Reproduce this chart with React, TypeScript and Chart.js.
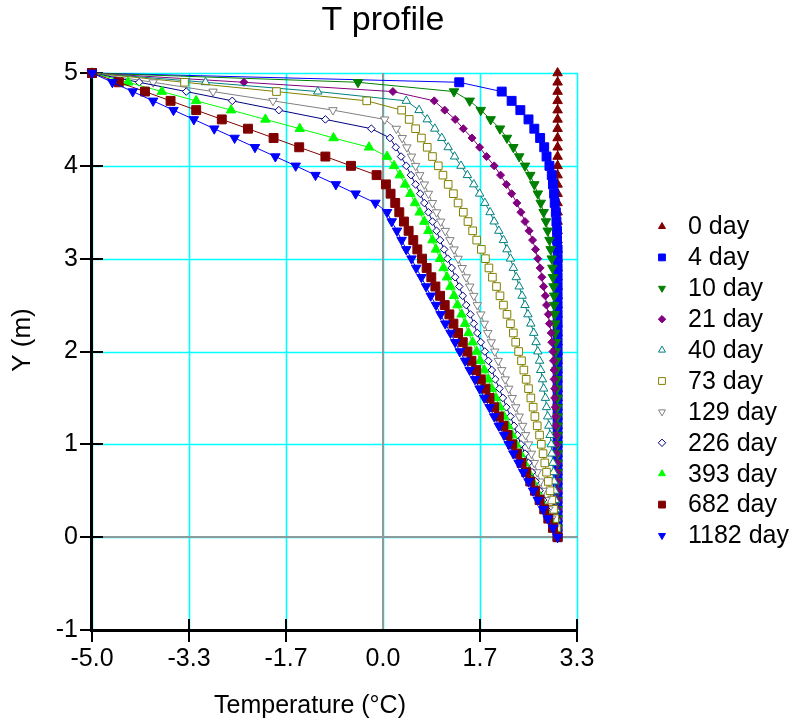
import React, { useEffect, useRef } from 'react';
import { Chart, registerables } from 'chart.js';

Chart.register(...registerables);

// ---------- data ----------
const depths = [
  5.0, 4.9, 4.8, 4.7, 4.6, 4.5, 4.4, 4.3, 4.2, 4.1,
  4.0, 3.9, 3.8, 3.7, 3.6, 3.5, 3.4, 3.3, 3.2, 3.1,
  3.0, 2.9, 2.8, 2.7, 2.6, 2.5, 2.4, 2.3, 2.2, 2.1,
  2.0, 1.9, 1.8, 1.7, 1.6, 1.5, 1.4, 1.3, 1.2, 1.1,
  1.0, 0.9, 0.8, 0.7, 0.6, 0.5, 0.4, 0.3, 0.2, 0.1, 0.0,
];

const seriesLabels = ['0 day', '4 day', '10 day', '21 day', '40 day', '73 day', '129 day', '226 day', '393 day', '682 day', '1182 day'];

const t0 = [
  3.0, 3.0, 3.0, 3.0, 3.0, 3.0, 3.0, 3.0, 3.0, 3.0,
  3.0, 3.0, 3.0, 3.0, 3.0, 3.0, 3.0, 3.0, 3.0, 3.0,
  3.0, 3.0, 3.0, 3.0, 3.0, 3.0, 3.0, 3.0, 3.0, 3.0,
  3.0, 3.0, 3.0, 3.0, 3.0, 3.0, 3.0, 3.0, 3.0, 3.0,
  3.0, 3.0, 3.0, 3.0, 3.0, 3.0, 3.0, 3.0, 3.0, 3.0, 3.0,
];
const t4 = [
  -5.0, 1.31, 2.04, 2.21, 2.36, 2.50, 2.60, 2.70, 2.77, 2.81,
  2.86, 2.90, 2.92, 2.94, 2.95, 2.97, 2.98, 2.99, 2.99, 3.0,
  3.0, 3.0, 3.0, 3.0, 3.0, 3.0, 3.0, 3.0, 3.0, 3.0,
  3.0, 3.0, 3.0, 3.0, 3.0, 3.0, 3.0, 3.0, 3.0, 3.0,
  3.0, 3.0, 3.0, 3.0, 3.0, 3.0, 3.0, 3.0, 3.0, 3.0, 3.0,
];
const t10 = [
  -5.0, -0.43, 1.22, 1.49, 1.68, 1.85, 2.01, 2.13, 2.24, 2.34,
  2.44, 2.53, 2.60, 2.66, 2.71, 2.76, 2.80, 2.83, 2.86, 2.88,
  2.90, 2.91, 2.92, 2.93, 2.94, 2.94, 2.95, 2.96, 2.96, 2.97,
  2.97, 2.98, 2.98, 2.99, 2.99, 3.0, 3.0, 3.0, 3.0, 3.0,
  3.0, 3.0, 3.0, 3.0, 3.0, 3.0, 3.0, 3.0, 3.0, 3.0, 3.0,
];
const t21 = [
  -5.0, -2.39, 0.17, 0.88, 1.06, 1.24, 1.38, 1.53, 1.66, 1.78,
  1.91, 2.02, 2.12, 2.21, 2.30, 2.37, 2.44, 2.51, 2.57, 2.62,
  2.66, 2.70, 2.73, 2.76, 2.79, 2.81, 2.84, 2.86, 2.89, 2.90,
  2.92, 2.93, 2.94, 2.94, 2.95, 2.95, 2.96, 2.97, 2.97, 2.98,
  2.98, 2.98, 2.99, 2.99, 2.99, 3.0, 3.0, 3.0, 3.0, 3.0, 3.0,
];
const t40 = [
  -5.0, -3.05, -1.12, 0.40, 0.62, 0.76, 0.89, 1.01, 1.12, 1.23,
  1.34, 1.45, 1.56, 1.66, 1.75, 1.84, 1.91, 1.99, 2.07, 2.13,
  2.19, 2.24, 2.29, 2.34, 2.39, 2.44, 2.49, 2.54, 2.59, 2.63,
  2.66, 2.69, 2.71, 2.74, 2.76, 2.79, 2.81, 2.83, 2.85, 2.87,
  2.89, 2.90, 2.92, 2.93, 2.94, 2.95, 2.96, 2.97, 2.98, 2.99, 3.0,
];
const t73 = [
  -5.0, -3.41, -1.83, -0.28, 0.32, 0.45, 0.56, 0.66, 0.76, 0.85,
  0.95, 1.03, 1.12, 1.21, 1.29, 1.38, 1.46, 1.54, 1.61, 1.69,
  1.76, 1.82, 1.88, 1.95, 2.01, 2.07, 2.13, 2.19, 2.24, 2.28,
  2.33, 2.38, 2.42, 2.46, 2.50, 2.54, 2.58, 2.61, 2.65, 2.69,
  2.72, 2.75, 2.78, 2.81, 2.84, 2.87, 2.90, 2.93, 2.95, 2.98, 3.0,
];
const t129 = [
  -5.0, -3.95, -2.92, -1.89, -0.86, 0.03, 0.23, 0.33, 0.41, 0.49,
  0.56, 0.63, 0.71, 0.78, 0.85, 0.92, 0.99, 1.07, 1.15, 1.22,
  1.29, 1.36, 1.43, 1.49, 1.56, 1.62, 1.68, 1.74, 1.80, 1.86,
  1.92, 1.98, 2.04, 2.10, 2.16, 2.22, 2.28, 2.34, 2.40, 2.45,
  2.50, 2.55, 2.60, 2.65, 2.70, 2.75, 2.80, 2.85, 2.90, 2.95, 3.0,
];
const t226 = [
  -5.0, -4.19, -3.38, -2.59, -1.79, -0.99, -0.20, 0.12, 0.22, 0.31,
  0.40, 0.48, 0.56, 0.64, 0.71, 0.78, 0.85, 0.92, 0.98, 1.05,
  1.11, 1.18, 1.24, 1.31, 1.37, 1.43, 1.50, 1.56, 1.62, 1.68,
  1.75, 1.81, 1.87, 1.93, 2.00, 2.06, 2.12, 2.19, 2.25, 2.31,
  2.37, 2.44, 2.50, 2.56, 2.62, 2.69, 2.75, 2.81, 2.87, 2.94, 3.0,
];
const t393 = [
  -5.0, -4.38, -3.80, -3.21, -2.61, -2.02, -1.43, -0.85, -0.24, 0.07,
  0.19, 0.29, 0.38, 0.47, 0.55, 0.63, 0.71, 0.78, 0.85, 0.91,
  0.98, 1.04, 1.10, 1.16, 1.22, 1.28, 1.35, 1.41, 1.47, 1.54,
  1.61, 1.67, 1.74, 1.81, 1.87, 1.94, 2.01, 2.08, 2.15, 2.22,
  2.29, 2.36, 2.43, 2.50, 2.57, 2.64, 2.71, 2.78, 2.86, 2.93, 3.0,
];
const t682 = [
  -5.0, -4.54, -4.09, -3.65, -3.21, -2.77, -2.32, -1.88, -1.44, -0.99,
  -0.55, -0.11, 0.05, 0.13, 0.21, 0.28, 0.36, 0.44, 0.52, 0.59,
  0.67, 0.75, 0.83, 0.90, 0.98, 1.06, 1.14, 1.21, 1.29, 1.37,
  1.45, 1.52, 1.60, 1.68, 1.76, 1.83, 1.91, 1.99, 2.07, 2.14,
  2.22, 2.30, 2.38, 2.46, 2.53, 2.61, 2.69, 2.77, 2.84, 2.92, 3.0,
];
const t1182 = [
  -5.0, -4.65, -4.30, -3.95, -3.60, -3.25, -2.90, -2.55, -2.20, -1.85,
  -1.50, -1.16, -0.81, -0.47, -0.13, 0.07, 0.15, 0.24, 0.32, 0.40,
  0.49, 0.57, 0.66, 0.74, 0.82, 0.91, 0.99, 1.07, 1.16, 1.24,
  1.32, 1.41, 1.49, 1.58, 1.66, 1.74, 1.83, 1.91, 1.99, 2.08,
  2.16, 2.24, 2.33, 2.41, 2.50, 2.58, 2.66, 2.75, 2.83, 2.92, 3.0,
];

const xTickValues = [-5, -10 / 3, -5 / 3, 0, 5 / 3, 10 / 3];
const xTickLabels = ['-5.0', '-3.3', '-1.7', '0.0', '1.7', '3.3'];
const yTickValues = [-1, 0, 1, 2, 3, 4, 5];
const yTickLabels = ['-1', '0', '1', '2', '3', '4', '5'];

const chartTitle = 'T profile';
const xAxisTitle = 'Temperature (°C)';
const yAxisTitle = 'Y (m)';

// ---------- styles ----------
const seriesValues = [t0, t4, t10, t21, t40, t73, t129, t226, t393, t682, t1182];
const seriesColors = ['#800000', '#0000ff', '#008000', '#800080', '#008080', '#808000', '#808080', '#000080', '#00ff00', '#800000', '#0000ff'];
const seriesShapes = ['triangle', 'rect', 'triangle', 'rectRot', 'triangle', 'rect', 'triangle', 'rectRot', 'triangle', 'rect', 'triangle'];
const seriesRotation = [0, 0, 180, 0, 0, 0, 180, 0, 0, 0, 180];
const seriesFilled = [true, true, true, true, false, false, false, false, true, true, true];
const seriesRadius = [5.5, 6.3, 5.5, 4.0, 4.9, 5.4, 4.9, 3.8, 5.5, 6.3, 5.5];

const FONT = "'Liberation Sans', Arial, Helvetica, sans-serif";
const CYAN = '#00ffff';
const ZERO_LINE = '#8a9c9c';

function drawShape(ctx: CanvasRenderingContext2D, shape: string, rot: number, x: number, y: number, r: number) {
  ctx.beginPath();
  if (shape === 'triangle') {
    const dir = rot === 180 ? 1 : -1;
    const h = r * 1.5;
    const w = r * 0.87;
    ctx.moveTo(x, y + dir * r);
    ctx.lineTo(x - w, y - dir * (h - r));
    ctx.lineTo(x + w, y - dir * (h - r));
    ctx.closePath();
  } else if (shape === 'rect') {
    ctx.rect(x - r, y - r, 2 * r, 2 * r);
  } else {
    ctx.moveTo(x, y - r);
    ctx.lineTo(x + r, y);
    ctx.lineTo(x, y + r);
    ctx.lineTo(x - r, y);
    ctx.closePath();
  }
}

const axisDecorPlugin = {
  id: 'axisDecor',
  beforeDatasetsDraw(chart: any) {
    const { ctx, chartArea, scales } = chart;
    const L = Math.round(chartArea.left);
    const R = Math.round(chartArea.right);
    const T = Math.round(chartArea.top);
    const B = Math.round(chartArea.bottom);
    ctx.save();
    // grid
    ctx.strokeStyle = CYAN;
    ctx.lineWidth = 1.6;
    ctx.beginPath();
    scales.x.ticks.forEach((t: any) => {
      const px = Math.round(scales.x.getPixelForValue(t.value)) + 0.5;
      ctx.moveTo(px, T);
      ctx.lineTo(px, B);
    });
    scales.y.ticks.forEach((t: any) => {
      const py = Math.round(scales.y.getPixelForValue(t.value)) + 0.5;
      ctx.moveTo(L, py);
      ctx.lineTo(R + 1, py);
    });
    ctx.stroke();
    // zero lines
    ctx.strokeStyle = ZERO_LINE;
    ctx.lineWidth = 2;
    ctx.beginPath();
    const x0 = Math.round(scales.x.getPixelForValue(0));
    ctx.moveTo(x0, T);
    ctx.lineTo(x0, B);
    const y0 = Math.round(scales.y.getPixelForValue(0));
    ctx.moveTo(L, y0);
    ctx.lineTo(R + 1, y0);
    ctx.stroke();
    // axis lines
    ctx.strokeStyle = '#000';
    ctx.lineWidth = 3;
    ctx.beginPath();
    ctx.moveTo(L - 0.5, T);
    ctx.lineTo(L - 0.5, B + 2);
    ctx.moveTo(L - 2, B + 0.5);
    ctx.lineTo(R + 1, B + 0.5);
    ctx.stroke();
    // ticks crossing the axes
    ctx.lineWidth = 2;
    ctx.beginPath();
    scales.x.ticks.forEach((t: any) => {
      if (t.value === 0) return;
      const px = Math.round(scales.x.getPixelForValue(t.value));
      ctx.moveTo(px, B + 12);
      ctx.lineTo(px, B - 11);
    });
    scales.y.ticks.forEach((t: any) => {
      const py = Math.round(scales.y.getPixelForValue(t.value));
      ctx.moveTo(L - 12, py);
      ctx.lineTo(L + 11, py);
    });
    ctx.stroke();
    ctx.restore();
  },
};

const textPlugin = {
  id: 'textAndLegend',
  afterDraw(chart: any) {
    const { ctx } = chart;
    ctx.save();
    ctx.fillStyle = '#000';
    ctx.font = `34px ${FONT}`;
    ctx.textAlign = 'center';
    ctx.textBaseline = 'middle';
    ctx.fillText(chartTitle, 383, 21);
    ctx.font = `25px ${FONT}`;
    ctx.fillText(xAxisTitle, 310, 706);
    ctx.save();
    ctx.translate(23, 340);
    ctx.rotate(-Math.PI / 2);
    ctx.font = `26px ${FONT}`;
    ctx.fillText(yAxisTitle, 0, 0);
    ctx.restore();
    chart.data.datasets.forEach((ds: any, i: number) => {
      const y = 226.5 + i * 30.9;
      const x = 662;
      const shape = ds.pointStyle;
      const r = shape === 'rect' ? 3.4 : shape === 'rectRot' ? 3.7 : 4.0;
      drawShape(ctx, shape, ds.pointRotation, x, y, r);
      ctx.fillStyle = ds.pointBackgroundColor;
      ctx.fill();
      ctx.strokeStyle = ds.pointBorderColor;
      ctx.lineWidth = 1;
      ctx.stroke();
      ctx.fillStyle = '#000';
      ctx.font = `25px ${FONT}`;
      ctx.textAlign = 'left';
      ctx.textBaseline = 'middle';
      ctx.fillText(ds.label, 688, y + 1);
    });
    ctx.restore();
  },
};

export default function App() {
  const canvasRef = useRef<HTMLCanvasElement | null>(null);

  useEffect(() => {
    if (!canvasRef.current) return;
    const datasets = seriesLabels.map((label, i) => ({
      label,
      data: depths.map((y, k) => ({ x: seriesValues[i][k], y })),
      borderColor: seriesColors[i],
      backgroundColor: seriesColors[i],
      pointBorderColor: seriesColors[i],
      pointBackgroundColor: seriesFilled[i] ? seriesColors[i] : '#ffffff',
      pointStyle: seriesShapes[i],
      pointRotation: seriesRotation[i],
      pointRadius: seriesRadius[i],
      pointBorderWidth: 1,
      borderWidth: 1,
      showLine: true,
      fill: false,
      tension: 0,
      clip: false,
      order: seriesLabels.length - i,
    }));

    const gridOpts = {
      display: true,
      drawOnChartArea: false,
      drawTicks: true,
      color: 'rgba(0,0,0,0)',
      tickColor: 'rgba(0,0,0,0)',
      tickLength: 12,
    };

    const chart = new Chart(canvasRef.current, {
      type: 'scatter',
      data: { datasets },
      options: {
        animation: false,
        responsive: false,
        devicePixelRatio: 1,
        events: [],
        layout: { padding: { left: 0, top: 73, right: 216, bottom: 0 } },
        plugins: { legend: { display: false }, title: { display: false }, tooltip: { enabled: false } },
        scales: {
          x: {
            type: 'linear',
            min: xTickValues[0],
            max: xTickValues[xTickValues.length - 1],
            afterBuildTicks: (scale: any) => {
              scale.ticks = xTickValues.map((v) => ({ value: v }));
            },
            afterFit: (scale: any) => {
              scale.height = 93;
            },
            ticks: {
              callback: (_v: any, idx: number) => xTickLabels[idx],
              font: { family: FONT, size: 25 },
              color: '#000',
              padding: 2,
              maxRotation: 0,
              autoSkip: false,
            },
            grid: gridOpts,
            border: { display: false },
          },
          y: {
            type: 'linear',
            min: yTickValues[0],
            max: yTickValues[yTickValues.length - 1],
            afterBuildTicks: (scale: any) => {
              scale.ticks = yTickValues.map((v) => ({ value: v }));
            },
            afterFit: (scale: any) => {
              scale.width = 92;
            },
            ticks: {
              callback: (_v: any, idx: number) => yTickLabels[idx],
              font: { family: FONT, size: 25 },
              color: '#000',
              padding: 2,
              autoSkip: false,
            },
            grid: gridOpts,
            border: { display: false },
          },
        },
      },
      plugins: [axisDecorPlugin, textPlugin],
    } as any);

    return () => {
      chart.destroy();
    };
  }, []);

  return (
    <div style={{ position: 'absolute', left: 0, top: 0, width: 793, height: 723, background: '#fff' }}>
      <canvas ref={canvasRef} width={793} height={723} style={{ display: 'block', width: 793, height: 723 }} />
    </div>
  );
}
